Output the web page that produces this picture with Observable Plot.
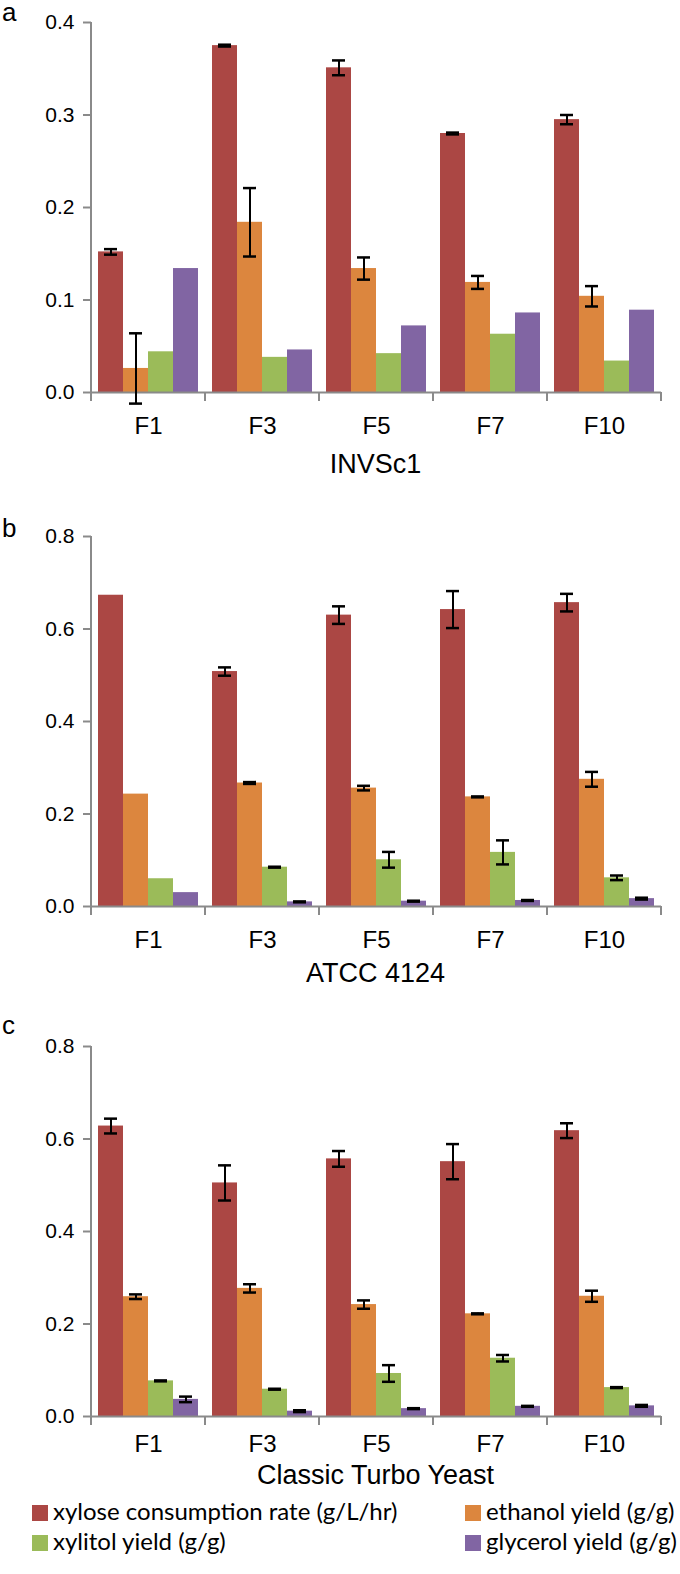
<!DOCTYPE html>
<html>
<head>
<meta charset="utf-8">
<script src="https://cdn.jsdelivr.net/npm/d3@7"></script>
<script src="https://cdn.jsdelivr.net/npm/@observablehq/plot@0.6"></script>
<style>
  html, body { margin: 0; padding: 0; background: #fff; }
  #wrap { position: relative; width: 680px; height: 1574px; font-family: 'Liberation Sans', Arial, sans-serif; color: #000; }
  .panel { position: absolute; left: 0; }
  .panel svg { display: block; }
  .letter { position: absolute; left: 2px; font-size: 26px; line-height: 26px; }
  .title { position: absolute; left: 89px; width: 573px; text-align: center; font-size: 27px; line-height: 30px; }
  .legend { position: absolute; left: 0; top: 1497px; width: 680px; font-family: Lato, 'Open Sans', sans-serif; font-size: 24px; }
  .item { position: absolute; white-space: nowrap; line-height: 28px; }
  .sw { display: inline-block; width: 16px; height: 16px; margin-right: 5px; vertical-align: -1px; }
</style>
</head>
<body>
<div id="wrap"></div>
<script>
const categories = ["F1", "F3", "F5", "F7", "F10"];
const series = ["xylose consumption rate (g/L/hr)", "ethanol yield (g/g)", "xylitol yield (g/g)", "glycerol yield (g/g)"];
const colors = ["#AB4744", "#DC863E", "#9BBB59", "#8165A3"];

// Panel a: INVSc1
const aXylose = [0.152, 0.375, 0.351, 0.280, 0.295];
const aXyloseErr = [0.003, 0.001, 0.008, 0.001, 0.005];
const aEthanol = [0.026, 0.184, 0.134, 0.119, 0.104];
const aEthanolErr = [0.038, 0.037, 0.012, 0.007, 0.011];
const aXylitol = [0.044, 0.038, 0.042, 0.063, 0.034];
const aXylitolErr = [0, 0, 0, 0, 0];
const aGlycerol = [0.134, 0.046, 0.072, 0.086, 0.089];
const aGlycerolErr = [0, 0, 0, 0, 0];

// Panel b: ATCC 4124
const bXylose = [0.673, 0.508, 0.630, 0.642, 0.657];
const bXyloseErr = [0, 0.009, 0.019, 0.040, 0.019];
const bEthanol = [0.243, 0.267, 0.256, 0.237, 0.275];
const bEthanolErr = [0, 0.002, 0.005, 0.001, 0.016];
const bXylitol = [0.060, 0.085, 0.101, 0.117, 0.062];
const bXylitolErr = [0, 0.001, 0.017, 0.026, 0.005];
const bGlycerol = [0.030, 0.010, 0.0115, 0.013, 0.017];
const bGlycerolErr = [0, 0.001, 0.001, 0.001, 0.002];

// Panel c: Classic Turbo Yeast
const cXylose = [0.628, 0.505, 0.557, 0.551, 0.618];
const cXyloseErr = [0.016, 0.038, 0.017, 0.038, 0.016];
const cEthanol = [0.259, 0.277, 0.242, 0.222, 0.260];
const cEthanolErr = [0.005, 0.009, 0.009, 0.001, 0.012];
const cXylitol = [0.077, 0.059, 0.093, 0.126, 0.0625];
const cXylitolErr = [0.001, 0.001, 0.018, 0.007, 0.001];
const cGlycerol = [0.037, 0.0115, 0.017, 0.022, 0.023];
const cGlycerolErr = [0.006, 0.002, 0.001, 0.001, 0.002];

const ticksA = [0, 0.1, 0.2, 0.3, 0.4];
const ticksBC = [0, 0.2, 0.4, 0.6, 0.8];

const panels = [
  {letter: "a", title: "INVSc1", top: 0, letterTop: -1, titleTop: 449, labelPad: 24, vals: [aXylose, aEthanol, aXylitol, aGlycerol], errs: [aXyloseErr, aEthanolErr, aXylitolErr, aGlycerolErr], ticks: ticksA},
  {letter: "b", title: "ATCC 4124", top: 514, letterTop: 1, titleTop: 444, labelPad: 24, vals: [bXylose, bEthanol, bXylitol, bGlycerol], errs: [bXyloseErr, bEthanolErr, bXylitolErr, bGlycerolErr], ticks: ticksBC},
  {letter: "c", title: "Classic Turbo Yeast", top: 1024, letterTop: -12, titleTop: 436, labelPad: 18, vals: [cXylose, cEthanol, cXylitol, cGlycerol], errs: [cXyloseErr, cEthanolErr, cXylitolErr, cGlycerolErr], ticks: ticksBC}
];

const wrap = document.getElementById("wrap");

for (const p of panels) {
  const rows = [];
  series.forEach((s, i) => categories.forEach((c, j) => {
    rows.push({cat: c, series: s, value: p.vals[i][j], err: p.errs[i][j]});
  }));
  const errRows = rows.filter(d => d.err > 0);
  const yMax = p.ticks[p.ticks.length - 1];

  const plot = Plot.plot({
    width: 680,
    height: 440,
    marginLeft: 89,
    marginRight: 18,
    marginTop: 22,
    marginBottom: 48,
    style: {fontFamily: "'Liberation Sans', Arial, sans-serif", color: "#000", background: "transparent", overflow: "visible"},
    fx: {domain: categories, padding: 0, label: null},
    x: {domain: series, axis: null, paddingInner: 0, paddingOuter: 0.23},
    y: {domain: [0, yMax], label: null},
    color: {domain: series, range: colors},
    marks: [
      Plot.axisY({ticks: p.ticks, tickFormat: d => d.toFixed(1), tickSize: 8, tickPadding: 9, fontSize: 21, label: null, stroke: "#8a8a8a", strokeWidth: 2}),
      Plot.axisFx({anchor: "bottom", tickSize: 0, tickPadding: p.labelPad, fontSize: 24, label: null}),
      Plot.barY(rows, {fx: "cat", x: "series", y: "value", fill: "series"}),
      Plot.ruleY([0], {stroke: "#8a8a8a", strokeWidth: 2}),
      Plot.ruleX(errRows, {fx: "cat", x: "series", y1: d => d.value - d.err, y2: d => d.value + d.err, stroke: "#000", strokeWidth: 2}),
      Plot.tickY(errRows, {fx: "cat", x: "series", y: d => d.value - d.err, stroke: "#000", strokeWidth: 2.5, insetLeft: 6, insetRight: 6}),
      Plot.tickY(errRows, {fx: "cat", x: "series", y: d => d.value + d.err, stroke: "#000", strokeWidth: 2.5, insetLeft: 6, insetRight: 6})
    ]
  });

  // Excel-style axis line and group boundary ticks, positioned from the plot's own scales
  const fx = plot.scale("fx");
  const y = plot.scale("y");
  const g = d3.select(plot).append("g").attr("stroke", "#8a8a8a").attr("stroke-width", 2);
  const x0 = fx.apply(categories[0]);
  g.append("line").attr("x1", x0).attr("x2", x0).attr("y1", y.apply(0) + 1).attr("y2", y.apply(yMax));
  const bounds = categories.map(c => fx.apply(c)).concat([fx.apply(categories[categories.length - 1]) + fx.bandwidth]);
  for (const b of bounds) {
    g.append("line").attr("x1", b).attr("x2", b).attr("y1", y.apply(0)).attr("y2", y.apply(0) + 9);
  }

  const div = document.createElement("div");
  div.className = "panel";
  div.style.top = p.top + "px";
  div.appendChild(plot);
  wrap.appendChild(div);

  const letter = document.createElement("div");
  letter.className = "letter";
  letter.style.top = (p.top + p.letterTop) + "px";
  letter.textContent = p.letter;
  wrap.appendChild(letter);

  const title = document.createElement("div");
  title.className = "title";
  title.style.top = (p.top + p.titleTop) + "px";
  title.textContent = p.title;
  wrap.appendChild(title);
}

// Legend
const legend = document.createElement("div");
legend.className = "legend";
const pos = [[32, 0], [465, 0], [32, 30], [465, 30]];
series.forEach((s, i) => {
  const it = document.createElement("div");
  it.className = "item";
  it.style.left = pos[i][0] + "px";
  it.style.top = pos[i][1] + "px";
  const sw = document.createElement("span");
  sw.className = "sw";
  sw.style.background = colors[i];
  it.appendChild(sw);
  it.appendChild(document.createTextNode(s));
  legend.appendChild(it);
});
wrap.appendChild(legend);
</script>
</body>
</html>
